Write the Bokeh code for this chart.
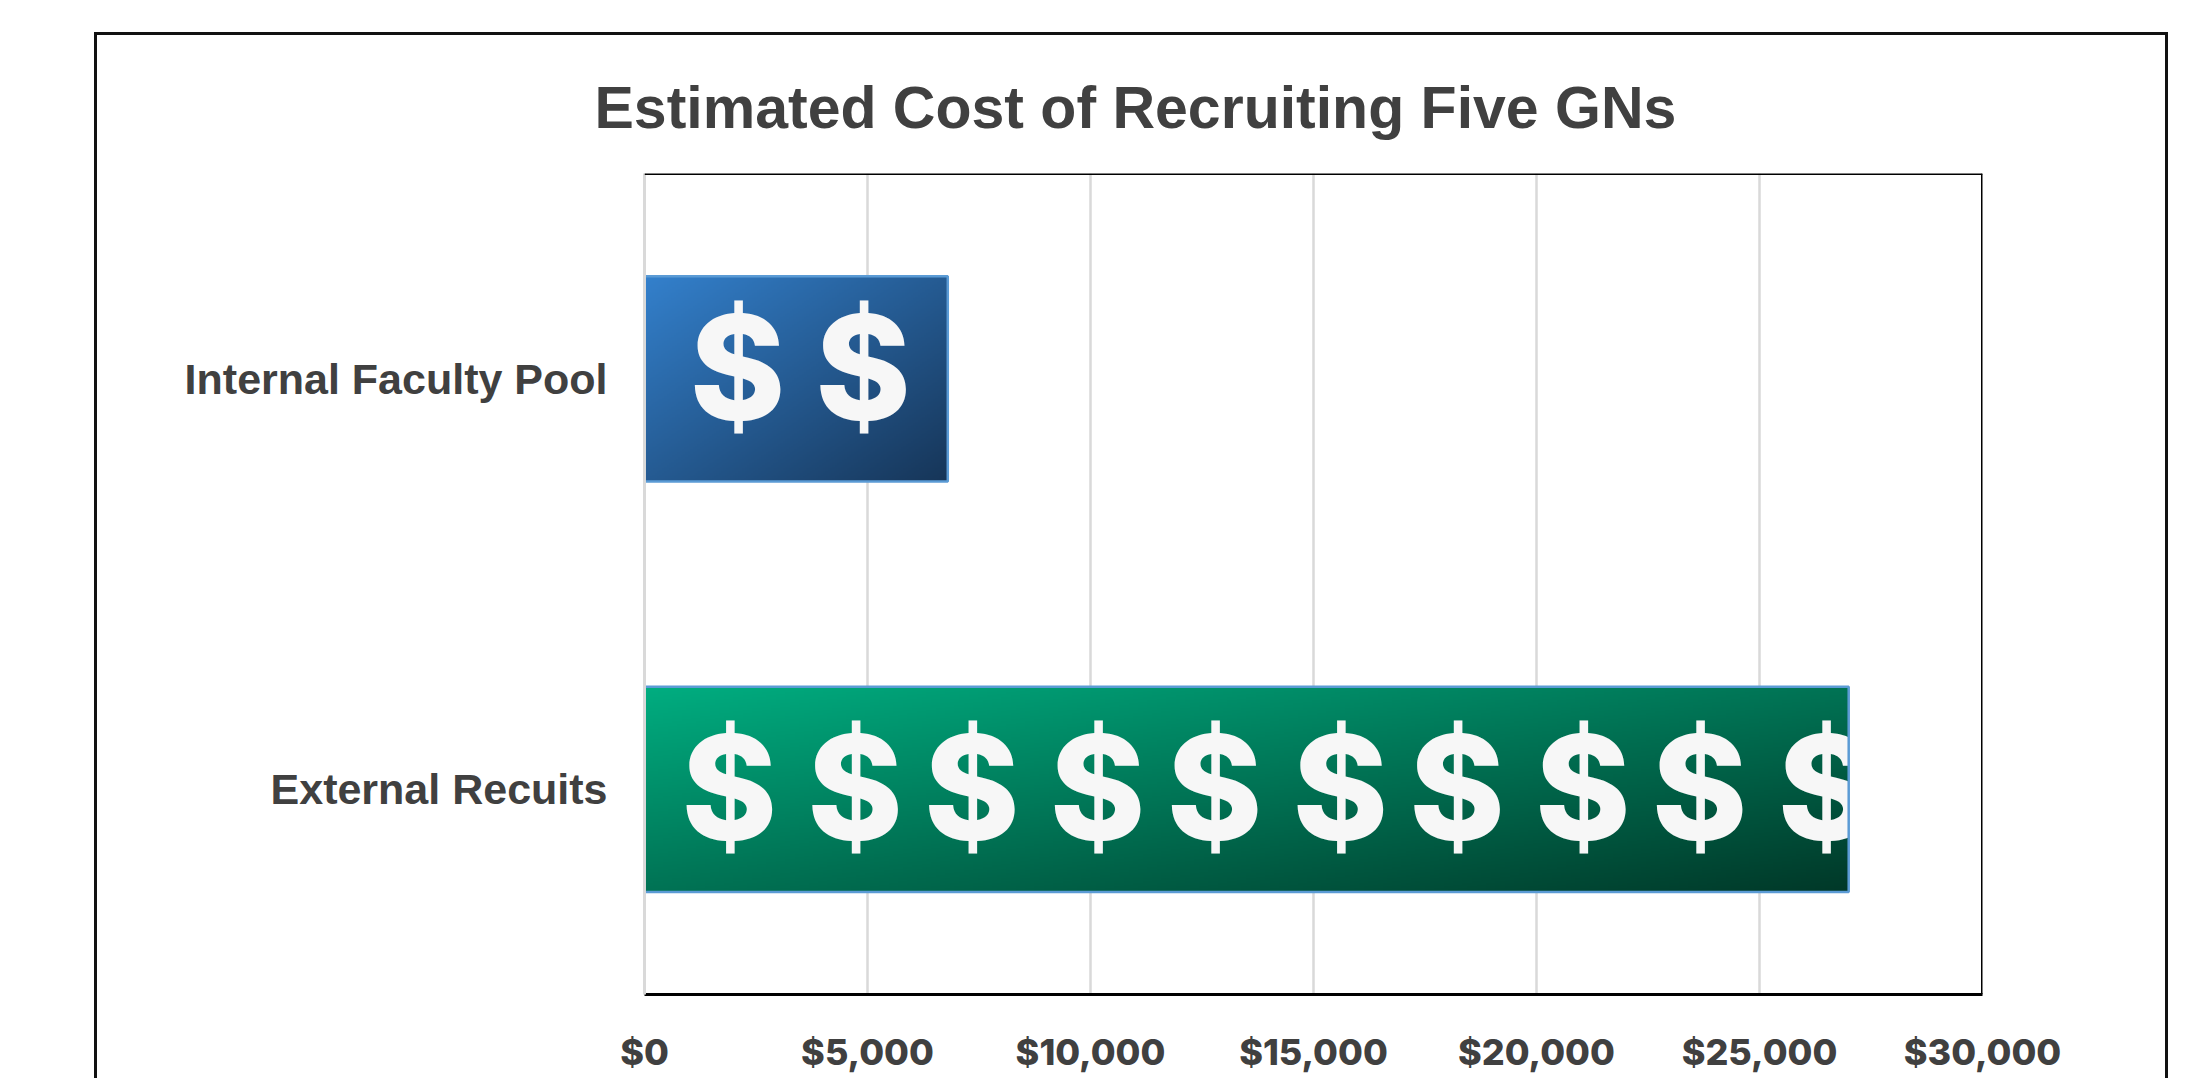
import numpy as np
from bokeh.plotting import figure
from bokeh.models import Range1d, FixedTicker, Span, NumeralTickFormatter, Title
from bokeh.core.properties import value
from bokeh.embed import file_html
from bokeh.resources import INLINE

title_text = "Estimated Cost of Recruiting Five GNs"
categories = ["External Recuits", "Internal Faculty Pool"]
costs = [27000, 6800]
x_ticks = [0, 5000, 10000, 15000, 20000, 25000, 30000]

gradient_start = [(0, 173, 128), (51, 128, 204)]
gradient_end = [(0, 56, 40), (22, 53, 88)]
tile_offsets = [(1900, 4720), (2090, 4900)]
sign_lift = [2, 11]
TILE = 5440
BAR_H = 0.5
ink = "#404040"

y_pos = [i + 0.5 for i in range(len(categories))]

p = figure(width=2068, height=1043, output_backend="svg", toolbar_location=None,
           x_range=Range1d(0, 30000), y_range=Range1d(0, 2),
           min_border_left=547, min_border_right=189, min_border_top=138, min_border_bottom=87,
           background_fill_color="white", border_fill_color="white")
p.margin = (32, 0, 0, 94)
frame_line = "3px solid #111111"
p.styles = {"border-left": frame_line, "border-top": frame_line, "border-right": frame_line,
            "box-sizing": "content-box"}
p.outline_line_color = None

t = Title(text=title_text, align="left", vertical_align="top", offset=-50, standoff=62,
          text_font="Liberation Sans", text_font_size="59px", text_font_style="bold", text_color=ink)
p.add_layout(t, "above")

main_x = p.below[0]
main_x.ticker = FixedTicker(ticks=x_ticks)
main_x.formatter = NumeralTickFormatter(format="$0,0")
main_x.major_tick_line_color = None
main_x.minor_tick_line_color = None
main_x.axis_line_color = "black"
main_x.axis_line_width = 3
main_x.major_label_standoff = 29
main_x.major_label_text_font = "Inter ExtraBold"
main_x.major_label_text_font_style = "bold"
main_x.major_label_text_font_size = "36px"
main_x.major_label_text_color = ink

p.yaxis.ticker = FixedTicker(ticks=y_pos)
p.yaxis.major_label_overrides = dict(zip(y_pos, categories))
p.yaxis.major_tick_line_color = None
p.yaxis.minor_tick_line_color = None
p.yaxis.axis_line_color = "#d9d9d9"
p.yaxis.axis_line_width = 3
p.yaxis.major_label_standoff = 31
p.yaxis.major_label_text_font = "Liberation Sans"
p.yaxis.major_label_text_font_style = "bold"
p.yaxis.major_label_text_font_size = "43px"
p.yaxis.major_label_text_color = ink

p.ygrid.visible = False
p.xgrid.ticker = FixedTicker(ticks=x_ticks)
p.xgrid.grid_line_color = "#d9d9d9"
p.xgrid.grid_line_width = 2.5

for yc, cost, c0, c1, offs, lift in zip(y_pos, costs, gradient_start, gradient_end, tile_offsets, sign_lift):
    h, w = 128, 256
    uu, vv = np.meshgrid(np.linspace(0, 1, w), np.linspace(1, 0, h))  # row 0 is the bottom
    g = (uu + vv) / 2
    img = np.zeros((h, w), dtype=np.uint32)
    view = img.view(dtype=np.uint8).reshape((h, w, 4))
    for k in range(3):
        view[:, :, k] = np.round(c0[k] + (c1[k] - c0[k]) * g).astype(np.uint8)
    view[:, :, 3] = 255
    p.image_rgba(image=[img], x=[0], y=[yc - BAR_H / 2], dw=[cost], dh=[BAR_H])

    xs = []
    tile = 0
    while tile * TILE < cost:
        for o in offs:
            if tile * TILE + o < cost:
                xs.append(tile * TILE + o)
        tile += 1
    p.text(x=xs, y=[yc] * len(xs), text=["$"] * len(xs), text_align="center", text_baseline="middle",
           y_offset=-lift, text_color="#f7f7f7", text_font=value("Inter ExtraBold"), text_font_style="bold",
           text_font_size=value("145px"))
    # hides the part of the last sign that runs past the end of the bar
    p.quad(left=[cost], right=[cost + 2000], bottom=[yc - BAR_H / 2], top=[yc + BAR_H / 2],
           fill_color="white", line_color=None)

p.hbar(y=y_pos, right=costs, left=0, height=BAR_H, fill_color=None, line_color="#5b9bd5", line_width=2.5)

for loc, dim in ((x_ticks[-1], "height"), (2, "width")):
    p.add_layout(Span(location=loc, dimension=dim, line_color="black", line_width=3))

open("out.html", "w").write(file_html(p, INLINE))
